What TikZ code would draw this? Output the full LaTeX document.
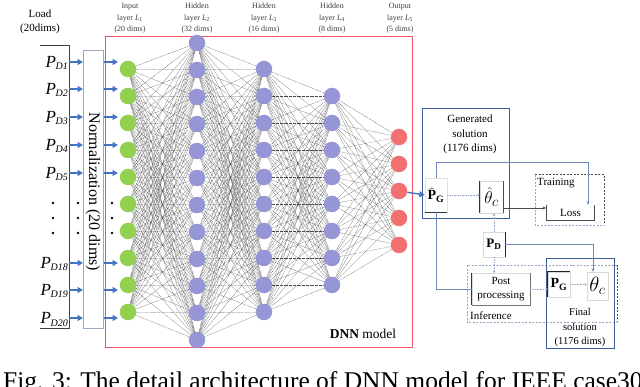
\documentclass[tikz,border=0pt]{standalone}
\usepackage{fontspec}
\setmainfont{Liberation Serif}
\usetikzlibrary{arrows.meta,backgrounds}
\definecolor{ngreen}{RGB}{146,208,80}
\definecolor{npurple}{RGB}{150,150,214}
\definecolor{nred}{RGB}{242,112,112}
\definecolor{boxred}{RGB}{240,84,96}
\definecolor{arrblue}{RGB}{68,114,196}
\definecolor{solblue}{RGB}{60,95,155}
\definecolor{lightline}{RGB}{150,170,200}
\definecolor{linkblue}{RGB}{110,140,185}
\newcommand{\pdlab}[1]{{\fontsize{17}{17}\selectfont\itshape P}\kern-0.5pt\raisebox{-2.5pt}{\fontsize{10}{10}\selectfont\itshape D#1}}
\begin{document}
\begin{tikzpicture}[x=1pt,y=-1pt,
  neuron/.style={circle, inner sep=0pt, minimum size=16.5pt},
  conn/.style={black!72, line width=0.28pt, dash pattern=on 0.7pt off 0.6pt},
  barrow/.style={arrblue, line width=1.4pt, -{Triangle[length=5.5pt,width=6pt]}},
  lab/.style={font=\fontsize{8}{11.5}\selectfont, align=center, text=black!75},
  txt/.style={font=\fontsize{11}{14.5}\selectfont, align=center},
  link/.style={linkblue, line width=0.7pt},
  linkarrow/.style={linkblue, line width=0.7pt, -{Stealth[length=3.5pt,width=3pt]}},
  faint/.style={lightline, line width=0.6pt, densely dotted, -{Stealth[length=2.5pt,width=2.5pt]}},
  pbox/.style={inner sep=0pt, draw=black!15},
]
\useasboundingbox (0,0) rectangle (640,387);

% layer labels
\node[txt] (load) at (40,22) {Load\\(20dims)};
\node[lab] (l1) at (130,18.5) {Input\\layer \textit{L}\textsubscript{1}\\(20 dims)};
\node[lab] (l2) at (197,18.5) {Hidden\\layer \textit{L}\textsubscript{2}\\(32 dims)};
\node[lab] (l3) at (264,18.5) {Hidden\\layer \textit{L}\textsubscript{3}\\(16 dims)};
\node[lab] (l4) at (332,18.5) {Hidden\\layer \textit{L}\textsubscript{4}\\(8 dims)};
\node[lab] (l5) at (400,18.5) {Output\\layer \textit{L}\textsubscript{5}\\(5 dims)};

% load bracket
\draw[black!75, line width=0.9pt] (40,45) -- (69,45) -- (69,328) -- (40,328);

% normalization box
\node[draw=lightline, line width=0.8pt, anchor=north west, minimum width=20pt, minimum height=278pt, inner sep=0pt] (norm) at (83,50) {};
\node[rotate=-90, font=\fontsize{16}{16}\selectfont] (normtxt) at (93,192) {Normalization (20 dims)};

% DNN box
\node[draw=boxred, line width=1.1pt, anchor=north west, minimum width=307pt, minimum height=311pt, inner sep=0pt] (dnn) at (105,36) {};
\node[font=\fontsize{13.5}{13.5}\selectfont] (dnntxt) at (363,334) {\textbf{DNN} model};

% neurons
\foreach \i in {0,...,9} \node[neuron,fill=ngreen] (a\i) at (128,{69+27*\i}) {};
\foreach \i in {0,...,11} \node[neuron,fill=npurple] (b\i) at (197,{43+27*\i}) {};
\foreach \i in {0,...,9} \node[neuron,fill=npurple] (c\i) at (264,{69+27*\i}) {};
\foreach \i in {0,...,7} \node[neuron,fill=npurple] (d\i) at (332,{96+27*\i}) {};
\foreach \i in {0,...,4} \node[neuron,fill=nred] (e\i) at (399,{137+27*\i}) {};

\begin{scope}[on background layer]
\fill[white] (0,0) rectangle (640,387);
\foreach \i in {0,...,9} \foreach \j in {0,...,11} \draw[conn] (a\i.center) -- (b\j.center);
\foreach \i in {0,...,11} \foreach \j in {0,...,9} \draw[conn] (b\i.center) -- (c\j.center);
\foreach \i in {0,...,9} \foreach \j in {0,...,7} \draw[conn] (c\i.center) -- (d\j.center);
\foreach \i in {0,...,7} \foreach \j in {0,...,4} \draw[conn] (d\i.center) -- (e\j.center);
\end{scope}

% inputs
\foreach \y/\k in {62/1,89/2,117/3,145/4,173/5,263/18,290/19,318/20} {
  \node[anchor=base east, inner sep=0pt] (pd\k) at (68,\y+5.5) {\pdlab{\k}};
  \coordinate (br\k) at (69,\y);
  \coordinate (ni\k) at (118,\y);
  \draw[barrow] (br\k) -- (norm.west |- br\k);
  \draw[barrow] (norm.east |- br\k) -- (ni\k);
}
\foreach \x in {53,78,112} \foreach \y in {203,218,233} \fill (\x,\y) circle (1.4pt);

% generated solution
\node[draw=solblue, line width=1pt, anchor=north west, minimum width=87pt, minimum height=110pt, inner sep=0pt] (gen) at (422,108) {};
\node[txt] (gentxt) at (470,134.5) {Generated\\solution\\(1176 dims)};
\node[inner sep=0pt, minimum width=22pt, minimum height=34pt, font=\fontsize{14}{14}\selectfont] (pg) at (436,195) {$\widehat{\mathbf{P}}_{\mathbf{G}}$};
\draw[black!12] (pg.north west) rectangle (pg.south east);
\draw[black!80, line width=0.8pt] (pg.south west) -- (pg.south east);
\node[pbox, minimum width=23pt, minimum height=32pt, font=\fontsize{19}{19}\selectfont] (thc) at (491.5,197) {$\hat{\theta}_c$};
\draw[black!80, line width=1pt] (thc.north west) -- (thc.south west);
\draw[black!70, line width=0.6pt] (thc.north east) -- (thc.south east);
\draw[barrow] (e2) -- (pg.west);

% training
\node[anchor=north west, minimum width=69pt, minimum height=50pt, inner sep=0pt] (train) at (535,175) {};
\draw[black!70, line width=1pt, dash pattern=on 2pt off 1.5pt] (train.north west) -- (train.north east) -- (train.south east);
\draw[lightline, line width=0.8pt, dash pattern=on 2pt off 1.5pt] (train.north west) -- (train.south west) -- (train.south east);
\node[anchor=west, inner sep=0pt, font=\fontsize{11}{11}\selectfont] (traintxt) at (537,183) {Training};
\node[inner sep=0pt, minimum width=47pt, minimum height=15pt, font=\fontsize{11}{11}\selectfont] (loss) at (570.5,212.5) {Loss};
\draw[black!70, line width=0.7pt] (loss.north west) -- (loss.south west) -- (loss.south east) -- (loss.north east);

% PD
\node[pbox, minimum width=22pt, minimum height=25pt, font=\fontsize{13}{13}\selectfont] (pd) at (494,244.5) {$\mathbf{P}_{\mathbf{D}}$};
\draw[black!85, line width=0.8pt] (pd.north east) -- (pd.south east);

% inference
\node[anchor=north west, minimum width=150pt, minimum height=57pt, inner sep=0pt] (inf) at (467,265) {};
\draw[lightline, line width=0.7pt, dash pattern=on 2pt off 1.5pt] (inf.north east) -- (inf.north west) -- (inf.south west) -- (inf.south east);
\draw[black!70, line width=1pt, dash pattern=on 2pt off 1.5pt] (inf.north east) -- (inf.south east);
\node[anchor=west, inner sep=0pt, font=\fontsize{11}{11}\selectfont] (inftxt) at (470,316) {Inference};
\node[pbox, minimum width=58pt, minimum height=32pt, align=center, font=\fontsize{11}{14}\selectfont] (post) at (501,289) {Post\\processing};
\draw[black!80, line width=1pt] (post.north west) -- (post.south west);
\draw[black!55, line width=0.8pt] (post.south west) -- (post.south east) -- (post.north east);

% final solution
\node[draw=solblue, line width=1pt, anchor=north west, minimum width=68pt, minimum height=90pt, inner sep=0pt] (final) at (546,258) {};
\node[font=\fontsize{10.5}{14.5}\selectfont, align=center] (fintxt) at (580,327.5) {Final\\solution\\(1176 dims)};
\node[pbox, minimum width=22pt, minimum height=25pt, font=\fontsize{14}{14}\selectfont] (pgf) at (559,284.5) {$\mathbf{P}_{\mathbf{G}}$};
\draw[black!85, line width=1pt] (pgf.south west) -- (pgf.north west) -- (pgf.north east);
\node[pbox, minimum width=21pt, minimum height=28pt, font=\fontsize{20}{20}\selectfont] (thC) at (597.5,286) {$\theta_c$};

% links
\coordinate (tp) at (588,162);
\draw[linkarrow] (pg.north) |- (tp) -- (tp |- loss.north);
\coordinate (lossin) at (546,208);
\draw[black!70, line width=0.7pt, -{Stealth[length=3.5pt,width=3pt]}] (thc.east |- lossin) -- (lossin);
\draw[faint] (pg.east) -- (thc.west |- pg.east);
\draw[link] (pg.south) |- (post.west);
\coordinate (pdr) at (593,244.5);
\draw[linkarrow] (pd.east) -- (pdr) -- (pdr |- thC.north);
\draw[faint] (pd.north) -- (pd.north |- thc.south);
\draw[faint] (pd.south) -- (pd.south |- post.north);
\draw[faint] (post.east) -- (pgf.west |- post.east);
\draw[faint] (pgf.east) -- (thC.west |- pgf.east);

% caption
\node[anchor=base west, inner sep=0pt, font=\fontsize{25.5}{25.5}\selectfont] (cap) at (3,389) {Fig. 3: The detail architecture of DNN model for IEEE case30};
\end{tikzpicture}
\end{document}
